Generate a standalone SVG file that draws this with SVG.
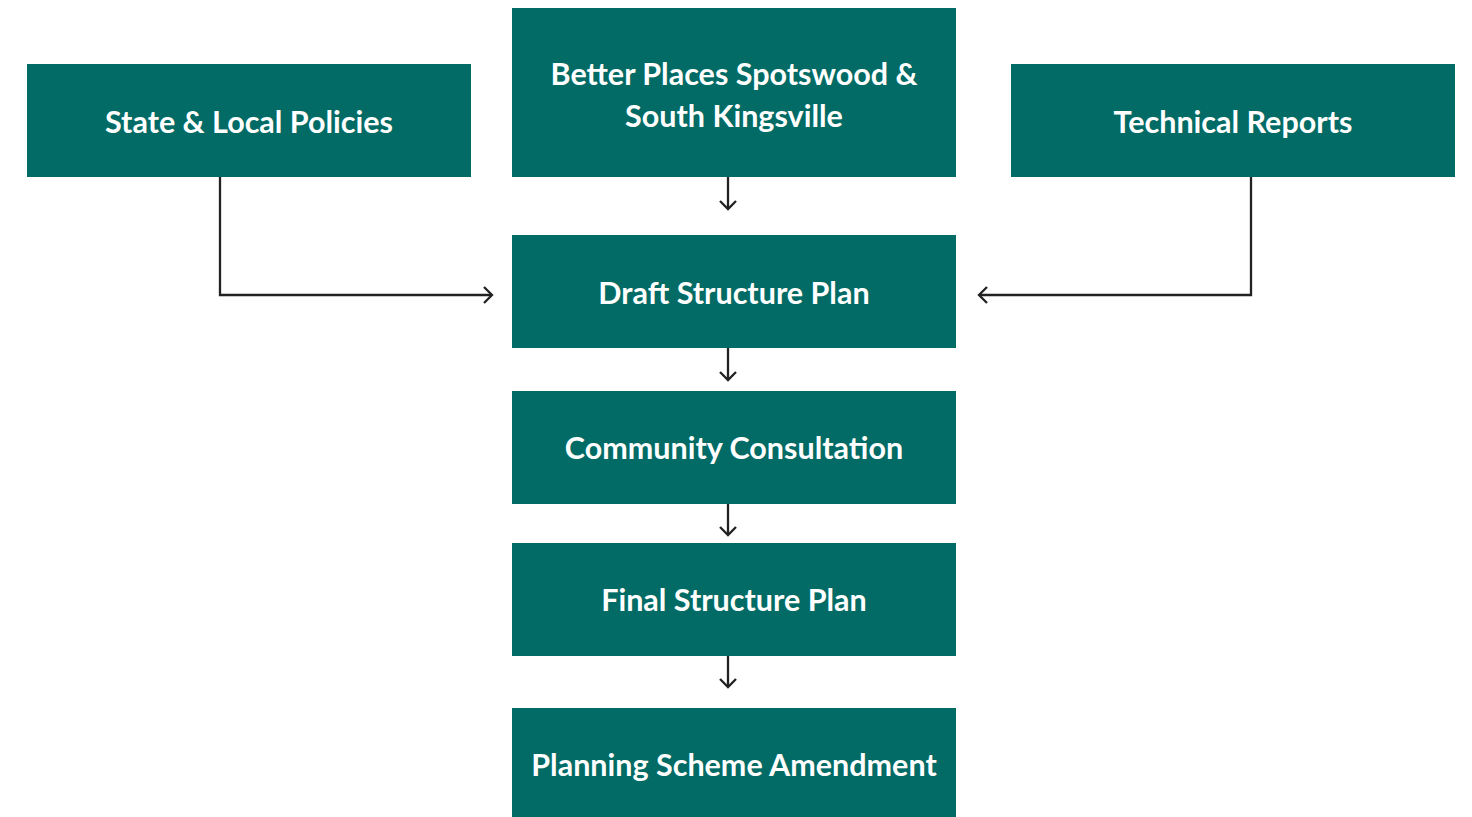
<svg xmlns="http://www.w3.org/2000/svg" width="1472" height="817" viewBox="0 0 1472 817">
<defs>
<style>
.box{fill:#026b65}
.lbl{fill:#ffffff;font-family:Lato,"Open Sans","Liberation Sans",sans-serif;font-weight:700;font-size:30.5px;text-anchor:middle;dominant-baseline:central}
.con{fill:none;stroke:#222222;stroke-width:2.3}
</style>
<marker id="arr" viewBox="0 0 20 20" refX="17" refY="10" markerWidth="20" markerHeight="20" markerUnits="userSpaceOnUse" orient="auto">
<path d="M9,2 L17,10 L9,18" fill="none" stroke="#222222" stroke-width="2.3"/>
</marker>
</defs>
<rect width="1472" height="817" fill="#ffffff"/>
<g id="connectors">
<path class="con" d="M728,177 V209" marker-end="url(#arr)"/>
<path class="con" d="M728,348 V380" marker-end="url(#arr)"/>
<path class="con" d="M728,504 V535" marker-end="url(#arr)"/>
<path class="con" d="M728,656 V687" marker-end="url(#arr)"/>
<path class="con" d="M220,177 V295 H492" marker-end="url(#arr)"/>
<path class="con" d="M1251,177 V295 H979" marker-end="url(#arr)"/>
</g>
<g id="state">
<rect class="box" x="27" y="64" width="444" height="113"/>
<text class="lbl" x="249" y="121">State &amp; Local Policies</text>
</g>
<g id="better">
<rect class="box" x="512" y="8" width="444" height="169"/>
<text class="lbl" x="734" y="73">Better Places Spotswood &amp;</text>
<text class="lbl" x="734" y="115">South Kingsville</text>
</g>
<g id="technical">
<rect class="box" x="1011" y="64" width="444" height="113"/>
<text class="lbl" x="1233" y="121">Technical Reports</text>
</g>
<g id="draft">
<rect class="box" x="512" y="235" width="444" height="113"/>
<text class="lbl" x="734" y="292">Draft Structure Plan</text>
</g>
<g id="community">
<rect class="box" x="512" y="391" width="444" height="113"/>
<text class="lbl" x="734" y="447">Community Consultation</text>
</g>
<g id="final">
<rect class="box" x="512" y="543" width="444" height="113"/>
<text class="lbl" x="734" y="599">Final Structure Plan</text>
</g>
<g id="planning">
<rect class="box" x="512" y="708" width="444" height="109"/>
<text class="lbl" x="734" y="764">Planning Scheme Amendment</text>
</g>
</svg>
